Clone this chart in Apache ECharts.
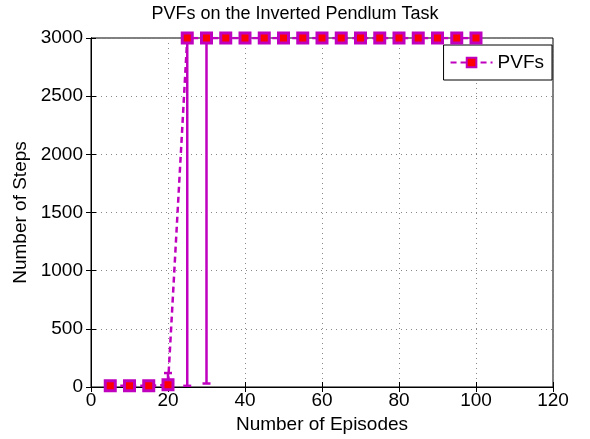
<!DOCTYPE html>
<html>
<head>
<meta charset="utf-8">
<script src="https://cdn.jsdelivr.net/npm/echarts@6/dist/echarts.min.js"></script>
<style>
  html, body { margin: 0; padding: 0; background: #fff; }
  #main { width: 590px; height: 439px; }
</style>
</head>
<body>
<div id="main"></div>
<script>
const episodes = [5, 10, 15, 20, 25, 30, 35, 40, 45, 50, 55, 60, 65, 70, 75, 80, 85, 90, 95, 100]
const steps = [10, 10, 10, 20, 3000, 3000, 3000, 3000, 3000, 3000, 3000, 3000, 3000, 3000, 3000, 3000, 3000, 3000, 3000, 3000]
// lower / upper ends of the error bars
const lowEnd = [10, 10, 10, -80, 10, 30, 3000, 3000, 3000, 3000, 3000, 3000, 3000, 3000, 3000, 3000, 3000, 3000, 3000, 3000]
const highEnd = [10, 10, 10, 120, 3000, 3000, 3000, 3000, 3000, 3000, 3000, 3000, 3000, 3000, 3000, 3000, 3000, 3000, 3000, 3000]

const magenta = '#bf00bf'
const font = 'Liberation Sans, Arial, sans-serif'

let points = episodes.map((x, i) => [x, steps[i]])
let bars = episodes.map((x, i) => [x, lowEnd[i], highEnd[i]])

let chart = echarts.init(document.getElementById('main'))

let axisText = { color: '#000', fontSize: 19, fontFamily: font }
let gridLine = { show: true, lineStyle: { color: '#888', type: [1, 4], width: 1 } }

chart.setOption({
  animation: false,
  title: {
    text: 'PVFs on the Inverted Pendlum Task',
    left: 'center',
    top: 0,
    textStyle: { color: '#000', fontSize: 18, fontWeight: 'normal', fontFamily: font }
  },
  legend: {
    right: 38,
    top: 45,
    orient: 'vertical',
    data: ['PVFs'],
    backgroundColor: '#fff',
    borderColor: '#000',
    borderWidth: 1,
    padding: [8, 8, 8, 6],
    itemWidth: 42,
    itemHeight: 12,
    itemGap: 6,
    textStyle: { color: '#000', fontSize: 19, fontFamily: font }
  },
  grid: {
    left: 91, right: 37, top: 38, bottom: 52,
    show: true, borderColor: '#000', borderWidth: 1
  },
  xAxis: [{
    type: 'value', min: 0, max: 120, interval: 20,
    name: 'Number of Episodes', nameLocation: 'middle', nameGap: 26,
    nameTextStyle: axisText,
    axisLine: { show: true, onZero: false, lineStyle: { color: '#000' } },
    axisTick: { inside: true, length: 5, lineStyle: { color: '#000' } },
    axisLabel: Object.assign({ margin: 4 }, axisText),
    splitLine: gridLine
  }, {
    type: 'value', min: 0, max: 120, interval: 20, position: 'top',
    axisLine: { show: true, lineStyle: { color: '#000' } },
    axisTick: { inside: true, length: 5, lineStyle: { color: '#000' } },
    axisLabel: { show: false },
    splitLine: { show: false }
  }],
  yAxis: [{
    type: 'value', min: 0, max: 3000, interval: 500,
    name: 'Number of Steps', nameLocation: 'middle', nameGap: 60,
    nameTextStyle: axisText,
    axisLine: { show: true, onZero: false, lineStyle: { color: '#000' } },
    axisTick: { inside: true, length: 5, lineStyle: { color: '#000' } },
    axisLabel: Object.assign({ margin: 8, formatter: v => String(v) }, axisText),
    splitLine: gridLine
  }, {
    type: 'value', min: 0, max: 3000, interval: 500, position: 'right',
    axisLine: { show: true, lineStyle: { color: '#000' } },
    axisTick: { inside: true, length: 5, lineStyle: { color: '#000' } },
    axisLabel: { show: false },
    splitLine: { show: false }
  }],
  series: [{
    type: 'custom',
    name: 'err',
    clip: true,
    z: 3,
    renderItem: function (params, api) {
      let x = api.value(0)
      let lo = api.coord([x, api.value(1)])
      let hi = api.coord([x, api.value(2)])
      let w = 4
      let style = { stroke: magenta, lineWidth: 2.5 }
      return {
        type: 'group',
        children: [
          { type: 'line', shape: { x1: lo[0], y1: lo[1], x2: hi[0], y2: hi[1] }, style: style },
          { type: 'line', shape: { x1: lo[0] - w, y1: lo[1], x2: lo[0] + w, y2: lo[1] }, style: style },
          { type: 'line', shape: { x1: hi[0] - w, y1: hi[1], x2: hi[0] + w, y2: hi[1] }, style: style }
        ]
      }
    },
    data: bars
  }, {
    type: 'line',
    name: 'PVFs',
    z: 5,
    data: points,
    symbol: 'rect',
    symbolSize: 10,
    showAllSymbol: true,
    lineStyle: { color: magenta, width: 2.5, type: [6, 4] },
    itemStyle: { color: '#ff0000', borderColor: magenta, borderWidth: 3 }
  }]
})
</script>
</body>
</html>
